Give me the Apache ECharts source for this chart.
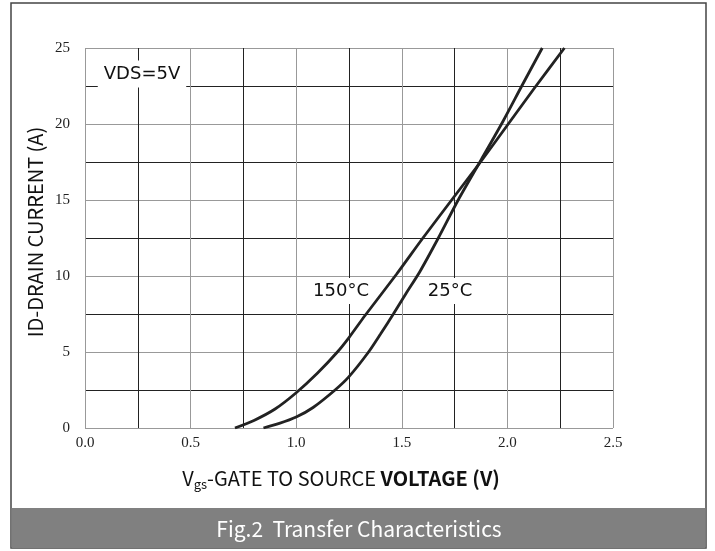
<!DOCTYPE html>
<html><head><meta charset="utf-8">
<script src="https://cdn.jsdelivr.net/npm/echarts@6/dist/echarts.min.js"></script>
<style>html,body{margin:0;padding:0;background:#fff}#c{width:715px;height:551px}</style>
</head><body><div id="c"></div>
<script>
// 150°C curve
const vgs150 = [0.71, 0.80, 0.90, 1.00, 1.10, 1.195, 1.25, 1.326, 1.474, 1.60, 1.736, 1.878, 2.004, 2.13, 2.27];
const id150  = [0,    0.5,  1.25, 2.32, 3.6,  5.0,   5.95, 7.4,   10.1,  12.5, 15.0,  17.6,  20.0,  22.4, 25.0];
// 25°C curve
const vgs25 = [0.845, 0.92, 1.00, 1.08, 1.184, 1.25, 1.34, 1.40, 1.46, 1.52, 1.586, 1.673, 1.767, 1.878, 1.98, 2.068, 2.165];
const id25  = [0,     0.3,  0.72, 1.35, 2.5,   3.38, 4.95, 6.2,  7.5,  8.85, 10.3,  12.5,  15.0,  17.7,  20.2, 22.5,  25.0];
const xTickLabels = ['0.0', '0.5', '1.0', '1.5', '2.0', '2.5'];
const yTickLabels = ['0', '5', '10', '15', '20', '25'];
const seriesNames = ['150°C', '25°C'];

const zip = (xs, ys) => xs.map((x, i) => [x, ys[i]]);
const chart = echarts.init(document.getElementById('c'), null, {renderer: 'canvas'});
const lineStyle = {color: '#222', width: 2.8};
const sans = '"Noto Sans CJK SC", "Noto Sans", sans-serif';
const dejavu = '"DejaVu Sans", sans-serif';
const serif = '"Liberation Serif", "DejaVu Serif", serif';

chart.setOption({
  animation: false,
  backgroundColor: '#fff',
  grid: {left: 85, right: 102, top: 48, bottom: 123, containLabel: false},
  xAxis: {
    type: 'value', min: 0, max: 2.5, interval: 0.5,
    axisLine: {show: false}, axisTick: {show: false},
    axisLabel: {margin: 8, color: '#222', fontFamily: serif, fontSize: 15,
      formatter: v => xTickLabels[Math.round(v / 0.5)]},
    splitLine: {show: true, lineStyle: {color: '#999', width: 1}},
    minorTick: {show: false, splitNumber: 2},
    minorSplitLine: {show: true, lineStyle: {color: '#222', width: 1}}
  },
  yAxis: {
    type: 'value', min: 0, max: 25, interval: 5,
    axisLine: {show: false}, axisTick: {show: false},
    axisLabel: {margin: 15, color: '#222', fontFamily: serif, fontSize: 15,
      formatter: v => yTickLabels[Math.round(v / 5)]},
    splitLine: {show: true, lineStyle: {color: '#999', width: 1}},
    minorTick: {show: false, splitNumber: 2},
    minorSplitLine: {show: true, lineStyle: {color: '#222', width: 1}}
  },
  series: [
    {name: seriesNames[0], type: 'line', data: zip(vgs150, id150), showSymbol: false, smooth: 0.25, lineStyle, z: 3},
    {name: seriesNames[1], type: 'line', data: zip(vgs25, id25), showSymbol: false, smooth: 0.25, lineStyle, z: 3}
  ],
  graphic: [
    {type: 'rect', z: 1, shape: {x: 11, y: 3, width: 695, height: 545}, style: {fill: 'none', stroke: '#444', lineWidth: 1.5}},
    {type: 'rect', z: 1, shape: {x: 11.5, y: 508, width: 694, height: 40}, style: {fill: '#808080'}},
    {type: 'text', z: 10, x: 359, y: 529, style: {text: 'Fig.2  Transfer Characteristics', fill: '#fff', font: '21px ' + sans, align: 'center', verticalAlign: 'middle'}},
    {type: 'text', z: 10, x: 35, y: 232, rotation: Math.PI / 2, style: {text: 'ID-DRAIN CURRENT (A)', fill: '#111', font: '20px ' + sans, align: 'center', verticalAlign: 'middle'}},
    {type: 'text', z: 10, x: 341, y: 478, style: {
      text: 'V{sub|gs}-GATE TO SOURCE {b|VOLTAGE (V)}', fill: '#111', font: '20px ' + sans, align: 'center', verticalAlign: 'middle',
      rich: {sub: {fontSize: 13, fontFamily: sans, fill: '#111', verticalAlign: 'bottom', padding: [12, 0, 0, 0]}, b: {fontSize: 20, fontWeight: 'bold', fontFamily: sans, fill: '#111'}}
    }},
    {type: 'text', z: 10, x: 142, y: 74, style: {text: 'VDS=5V', fill: '#111', font: '18px ' + dejavu, align: 'center', verticalAlign: 'middle', backgroundColor: '#fff', padding: [5, 6, 4, 6]}},
    {type: 'text', z: 10, x: 341, y: 291, style: {text: seriesNames[0], fill: '#111', font: '18px ' + dejavu, align: 'center', verticalAlign: 'middle', backgroundColor: '#fff', padding: [4, 2, 4, 2]}},
    {type: 'text', z: 10, x: 450, y: 291, style: {text: seriesNames[1], fill: '#111', font: '18px ' + dejavu, align: 'center', verticalAlign: 'middle', backgroundColor: '#fff', padding: [4, 2, 4, 2]}}
  ]
});
</script>
</body></html>
